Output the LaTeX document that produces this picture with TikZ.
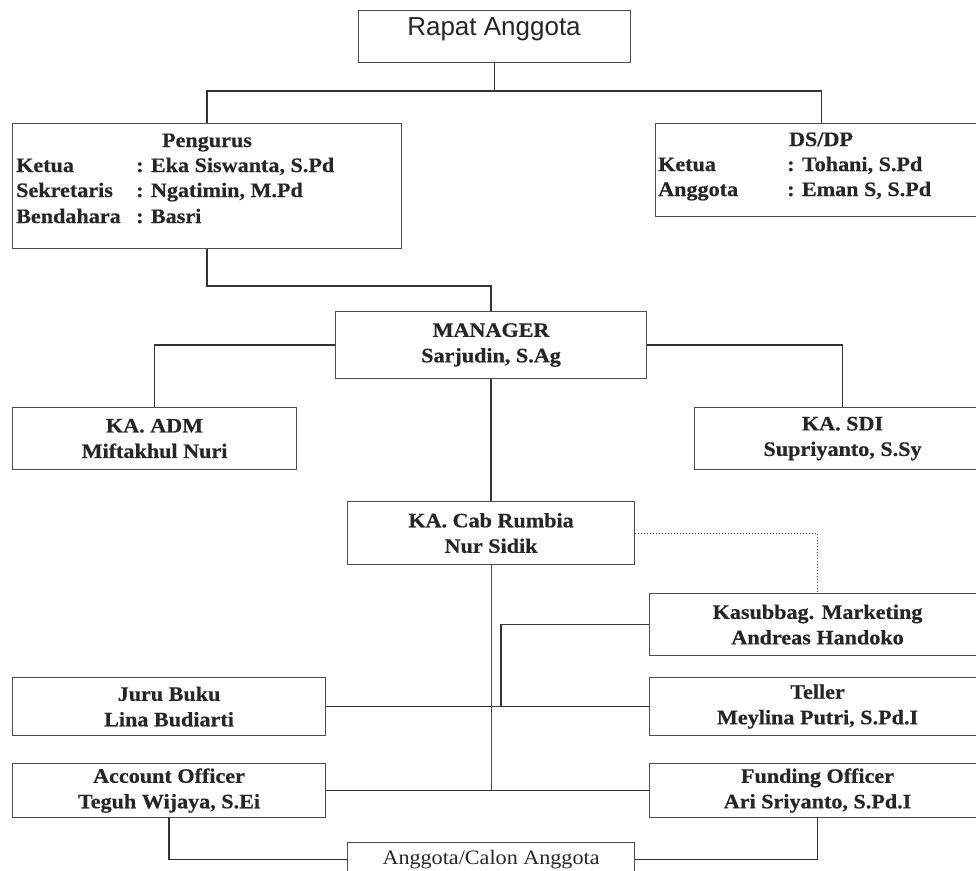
\documentclass[tikz,border=0pt]{standalone}
\usepackage{fontspec}
\setmainfont{Liberation Serif}[FakeStretch=1.08, BoldFeatures={FakeStretch=1.08, FakeBold=0.5}]
\newfontfamily\arialfont{Liberation Sans}
\begin{document}
\begin{tikzpicture}[x=1pt,y=-1pt,
  box/.style={draw=black!70, line width=1.1pt, fill=white, rectangle, inner sep=0pt,
    anchor=north west, align=center, text=black!85,
    font=\bfseries\fontsize{20.5}{25.5}\selectfont},
  lbl/.style={inner sep=0pt, text=black!85, font=\bfseries\fontsize{20.5}{25.5}\selectfont},
  conn/.style={line width=1.4pt, draw=black!80},
  thinline/.style={line width=0.8pt, draw=black!70},
  dots/.style={line width=1pt, dotted, draw=black!70}]
\useasboundingbox (0,0) rectangle (976,870);

% boxes
\node[box, minimum width=272, minimum height=52] (rapat) at (358,10) {};
\node[inner sep=0pt, anchor=base, text=black!85, font=\arialfont\fontsize{26}{30}\selectfont] (rapatt) at (494,35) {Rapat Anggota};

\node[box, minimum width=389, minimum height=125] (pengurus) at (12,123) {};
\node[lbl, anchor=base] (pt) at (207,147) {Pengurus};
\node[lbl, anchor=base west] (p1) at (16,172) {\makebox[120pt][l]{Ketua}: Eka Siswanta, S.Pd};
\node[lbl, anchor=base west] (p2) at (16,197) {\makebox[120pt][l]{Sekretaris}: Ngatimin, M.Pd};
\node[lbl, anchor=base west] (p3) at (16,223) {\makebox[120pt][l]{Bendahara}: Basri};

\node[box, minimum width=332, minimum height=93] (dsdp) at (655,123) {};
\node[lbl, anchor=base] (dt) at (821,146) {DS/DP};
\node[lbl, anchor=base west] (d1) at (658,171) {\makebox[129pt][l]{Ketua}: Tohani, S.Pd};
\node[lbl, anchor=base west] (d2) at (658,196) {\makebox[129pt][l]{Anggota}: Eman S, S.Pd};

\node[box, minimum width=311, minimum height=67] (manager) at (335,311) {MANAGER\\Sarjudin, S.Ag};
\node[box, minimum width=284, minimum height=62] (kaadm) at (12,407) {KA. ADM\\Miftakhul Nuri};
\node[box, minimum width=296, minimum height=62] (kasdi) at (694,407) {KA. SDI\\Supriyanto, S.Sy};
\node[box, minimum width=287, minimum height=63] (kacab) at (347,501) {KA. Cab Rumbia\\Nur Sidik};
\node[box, minimum width=336, minimum height=62] (kasub) at (649,593) {Kasubbag. Marketing\\Andreas Handoko};
\node[box, minimum width=313, minimum height=58] (juru) at (12,677) {Juru Buku\\Lina Budiarti};
\node[box, minimum width=336, minimum height=58] (teller) at (649,677) {Teller\\Meylina Putri, S.Pd.I};
\node[box, minimum width=313, minimum height=54] (account) at (12,763) {Account Officer\\Teguh Wijaya, S.Ei};
\node[box, minimum width=336, minimum height=54] (funding) at (649,763) {Funding Officer\\Ari Sriyanto, S.Pd.I};
\node[box, minimum width=287, minimum height=34, font=\fontsize{20.5}{25.5}\selectfont] (anggota) at (347,842) {Anggota/Calon Anggota};

% connectors
\draw[conn] (rapat.south) -- ++(0,28) coordinate (rj);
\draw[conn] (pengurus.north) |- (rj) -| (dsdp.north);
\draw[conn] (pengurus.south) -- ++(0,37) -| (manager.north);
\draw[conn] (manager.west) -| (kaadm.north);
\draw[conn] (manager.east) -| (kasdi.north);
\draw[conn] (manager.south) -- (kacab.north);
\draw[dots] (kacab.east) -| (kasub.north);
\draw[thinline] (kacab.south) -- (kacab.south |- account.east);
\draw[conn] (juru.east) -- (teller.west);
\coordinate (tj) at (501,706);
\draw[conn] (kasub.west) -| (tj);
\draw[conn] (account.east) -- (funding.west);
\coordinate (ab) at (169,817);
\draw[conn] (ab) |- (anggota.west);
\draw[conn] (funding.south) |- (anggota.east);
\end{tikzpicture}
\end{document}
